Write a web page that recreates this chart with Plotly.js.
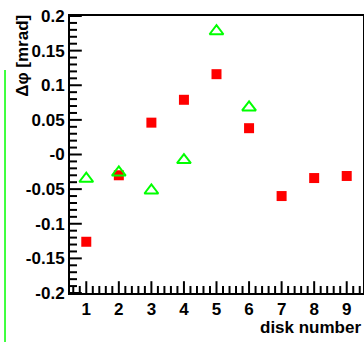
<!DOCTYPE html>
<html><head><meta charset="utf-8">
<script src="https://cdn.plot.ly/plotly-3.0.1.min.js"></script>
<style>html,body{margin:0;padding:0;background:#fff}
.xtick text,.ytick text,.annotation-text{font-weight:bold !important}</style>
</head><body><div id="c" style="width:364px;height:342px"></div>
<script>
const diskRed = [1,2,3,4,5,6,7,8,9];
const dphiRed = [-0.126,-0.030,0.046,0.079,0.116,0.038,-0.060,-0.034,-0.031];
const diskGreen = [1,2,3,4,5,6];
const dphiGreen = [-0.035,-0.026,-0.052,-0.008,0.178,0.068];
const yTickVals = [-0.2,-0.15,-0.1,-0.05,0,0.05,0.1,0.15,0.2];
const yTickText = ['-0.2','-0.15','-0.1','-0.05','-0','0.05','0.1','0.15','0.2'];
const xTickVals = [1,2,3,4,5,6,7,8,9];

const W = 364, H = 342, M = {l:70, r:1, t:16, b:49};
const xRange = [0.5, 9.5], yRange = [-0.2, 0.2];
const pxX = (xRange[1]-xRange[0]) / (W - M.l - M.r);
const pxY = (yRange[1]-yRange[0]) / (H - M.t - M.b);

// tick-mark decorations, placed through the axis scales
const xMajX = [], xMajY = [], xMinX = [], xMinY = [];
xTickVals.forEach(v => { xMajX.push(v); xMajY.push(yRange[0] + 5.5*pxY); });
for (let i = 3; i <= 47; i++) { if (i % 5 !== 0) { xMinX.push(i/5); xMinY.push(yRange[0] + 3.5*pxY); } }
const yMajX = [], yMajY = [], yMinX = [], yMinY = [];
for (let i = -20; i <= 20; i++) {
  if (i % 5 === 0) { yMajY.push(i/100); yMajX.push(xRange[0] + 5.5*pxX); }
  else { yMinY.push(i/100); yMinX.push(xRange[0] + 3.5*pxX); }
}
function tickTrace(xs, ys, sym, size){
  return {x:xs, y:ys, mode:'markers', type:'scatter', cliponaxis:false, hoverinfo:'skip',
    marker:{symbol:sym, size:size, color:'#000', line:{width:2, color:'#000'}}};
}

const fnt = {family:'Liberation Sans', size:17, color:'#000', weight:700};
const data = [
 tickTrace(xMajX, xMajY, 'line-ns', 9),
 tickTrace(xMinX, xMinY, 'line-ns', 5),
 tickTrace(yMajX, yMajY, 'line-ew', 9),
 tickTrace(yMinX, yMinY, 'line-ew', 5),
 {x:diskRed, y:dphiRed, mode:'markers', type:'scatter',
  marker:{symbol:'square', size:10, color:'#ff0000'}},
 {x:diskGreen, y:dphiGreen, mode:'markers', type:'scatter',
  marker:{symbol:'triangle-up-open', size:12, color:'#00ff00', line:{width:2, color:'#00ff00'}}}
];

const layout = {
 width:W, height:H, showlegend:false,
 paper_bgcolor:'#fff', plot_bgcolor:'#fff',
 margin:M,
 xaxis:{range:xRange, tickmode:'array', tickvals:xTickVals, ticks:'', 
   showline:true, mirror:true, linewidth:2, linecolor:'#000', showgrid:false, zeroline:false, tickfont:fnt},
 yaxis:{range:yRange, tickmode:'array', tickvals:yTickVals, ticktext:yTickText, ticks:'',
   showline:true, mirror:true, linewidth:2, linecolor:'#000', showgrid:false, zeroline:false, tickfont:fnt},
 annotations:[
  {text:'<b>disk number</b>', xref:'paper', yref:'paper', x:1, y:-0.125, xanchor:'right', yanchor:'middle', showarrow:false, font:fnt},
  {text:'<b>Δφ [mrad]</b>', xref:'paper', yref:'paper', x:-0.162, y:1.01, xanchor:'center', yanchor:'top', textangle:-90, showarrow:false, font:fnt}
 ],
 shapes:[
  {type:'line', xref:'paper', yref:'paper', x0:-0.2218, x1:-0.2218, y0:0.805, y1:-0.18, line:{color:'#00ff00', width:1.5}}
 ]
};
Plotly.newPlot('c', data, layout, {displayModeBar:false, staticPlot:true});
</script></body></html>
